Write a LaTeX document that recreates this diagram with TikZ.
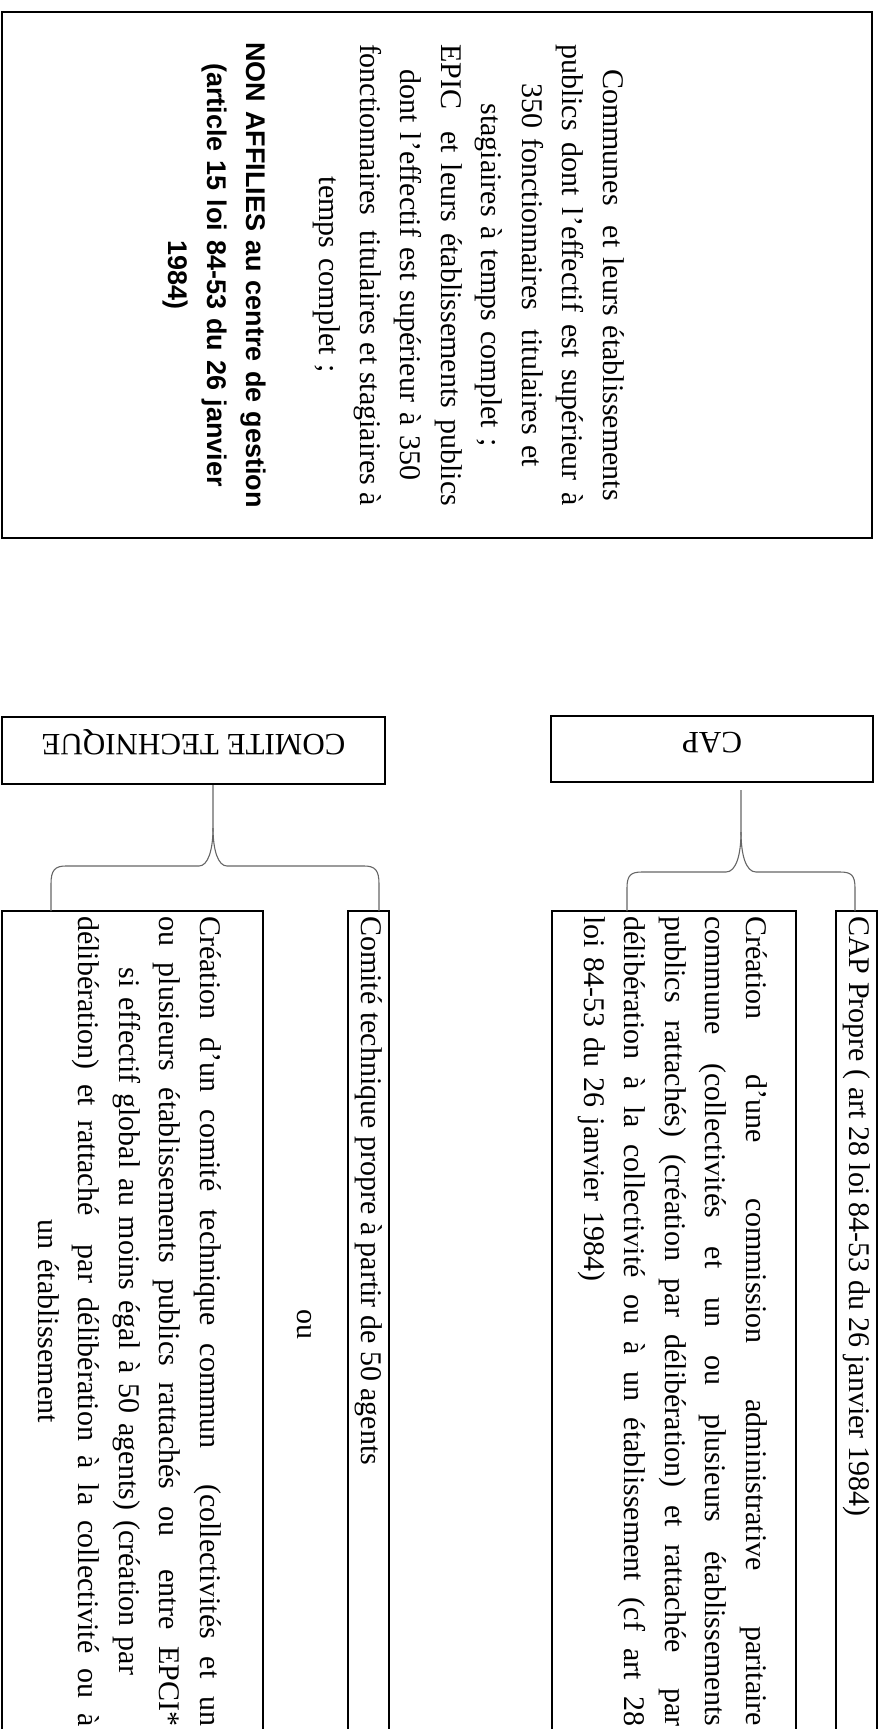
\documentclass[tikz,border=0pt]{standalone}
\usepackage{fontspec}
\setmainfont{Liberation Serif}
\newfontfamily\boldsans{Liberation Sans}
\usetikzlibrary{calc}

% justified line (TikZ align keys make spaces rigid, so reset them)
\newcommand{\jline}[2][810pt]{\makebox[#1][s]{\spaceskip=0pt\xspaceskip=0pt #2}}

\tikzset{
  frame/.style={draw=black, line width=2.4pt},
  brace/.style={draw=black!60, line width=1.1pt},
  vtext/.style={rotate=-90, inner sep=0pt, font=\fontsize{30}{40.5}\selectfont},
  headbox/.style={frame, rotate=180, inner sep=0pt, text height=33pt, text depth=0pt,
    font=\fontsize{31}{36}\selectfont},
}

\begin{document}
\begin{tikzpicture}[x=1pt, y=-1pt]
\useasboundingbox (0,0) rectangle (884,1729);
\clip (0,0) rectangle (884,1729);
% Coordinates
\coordinate (top-nw) at (2,12);
\coordinate (top-se) at (872,538);
\coordinate (cap-tip) at (741,790);
\coordinate (cap-left) at (627,911);
\coordinate (cap-right) at (855,911);
\coordinate (ct-tip) at (213,785);
\coordinate (ct-left) at (51,911);
\coordinate (ct-right) at (379,911);
% Upper box
\draw[frame] (top-nw) rectangle (top-se);
\node[vtext, anchor=base, text width=520pt, align=center] (communes) at (603,275)
  {\hspace*{20pt}Communes\ \ et leurs établissements\\
   \jline[462pt]{publics dont l'effectif est supérieur à}\\
   350 fonctionnaires\ \ titulaires et\\
   stagiaires à temps complet ;\\
   \jline[462pt]{EPIC\ \ et leurs établissements publics}\\
   dont l'effectif est supérieur à 350\\
   \jline[462pt]{fonctionnaires\ \ titulaires et stagiaires à}\\
   temps complet ;};
\node[vtext, anchor=base, text width=520pt, align=center,
  font=\boldsans\bfseries\fontsize{27}{39}\selectfont] (non-affilies) at (246,275)
  {NON AFFILIES au centre de gestion\\
   (article 15 loi 84-53 du 26 janvier\\
   1984)};
% Heads
\node[headbox, minimum width=322pt, minimum height=66pt] (cap) at (712,749) {CAP};
\node[headbox, minimum width=383pt, minimum height=67pt] (ct) at (193.5,750.5) {COMITE TECHNIQUE};
% Lower boxes
\draw[frame] (552,911) rectangle (796,1760);
\draw[frame] (836,911) rectangle (877,1760);
\draw[frame] (2,911) rectangle (263,1760);
\draw[frame] (348,911) rectangle (389,1760);
\node[vtext, anchor=base west] (cap-propre) at (849,916)
  {CAP Propre ( art 28 loi 84-53 du 26 janvier 1984)};
\node[vtext, anchor=base west, text width=810pt, align=left] (cap-creation) at (746,916)
  {\jline{Création d'une commission administrative paritaire}\\
   \jline{commune (collectivités et un ou plusieurs établissements}\\
   \jline{publics rattachés) (création par délibération) et rattachée\ \ par}\\
   \jline{délibération à la collectivité ou à un établissement (cf art 28}\\
   loi 84-53 du 26 janvier 1984)};
\node[vtext, anchor=base west] (ct-propre) at (361,916)
  {Comité technique propre à partir de 50 agents};
\node[vtext] (ou) at (304,1324) {ou};
\node[vtext, anchor=base west, text width=810pt, align=center] (ct-creation) at (200,916)
  {\jline{Création d'un comité technique commun\ \ (collectivités et un}\\
   \jline{ou plusieurs établissements publics rattachés ou\ \ entre EPCI*}\\
   si effectif global au moins égal à 50 agents) (création par\\
   \jline{délibération) et rattaché\ \ par délibération à la collectivité ou à}\\
   un établissement};
% Braces
\draw[brace] (cap-left) -- (627,888) .. controls (627,875) and (631,872) .. (642,872)
  -- (726,872) .. controls (736,872) and (741,855) .. (741,832) -- (cap-tip);
\draw[brace] (cap-right) -- (855,888) .. controls (855,875) and (851,872) .. (840,872)
  -- (756,872) .. controls (746,872) and (741,855) .. (741,832);
\draw[brace] (ct-left) -- (51,884) .. controls (51,870) and (55,866) .. (66,866)
  -- (199,866) .. controls (208,866) and (213,850) .. (213,828) -- (ct-tip);
\draw[brace] (ct-right) -- (379,884) .. controls (379,870) and (375,866) .. (364,866)
  -- (227,866) .. controls (218,866) and (213,850) .. (213,828);
\end{tikzpicture}
\end{document}
